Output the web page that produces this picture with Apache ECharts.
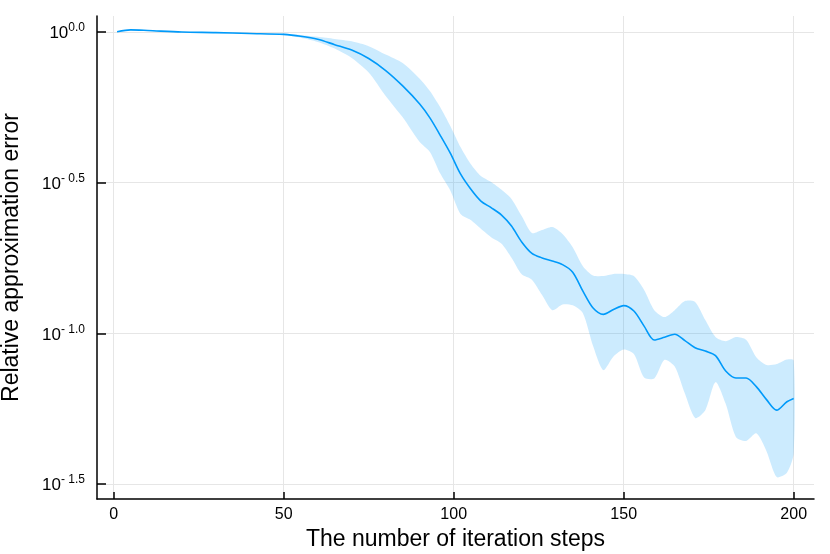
<!DOCTYPE html>
<html>
<head>
<meta charset="utf-8">
<title>Relative approximation error</title>
<script src="https://cdn.jsdelivr.net/npm/echarts@6/dist/echarts.min.js"></script>
<style>
  html, body { margin: 0; padding: 0; background: #fff; }
  #main { width: 830px; height: 554px; }
</style>
</head>
<body>
<div id="main"></div>
<script>
var steps = [1, 5, 10, 20, 30, 40, 50, 55, 60, 65, 70, 75, 80, 85, 90,
  93, 96, 99, 102, 105, 108, 111, 114, 117, 120, 123, 126, 129, 132, 135,
  138, 141, 144, 147, 150, 153, 156, 159, 162, 165, 168, 171, 174, 177, 180,
  183, 186, 189, 192, 195, 198, 200];

// log10 of the relative error: mean, upper and lower edge of the ribbon
var meanLog10 = [0.001, 0.007, 0.005, 0.000, -0.002, -0.005, -0.008,
  -0.014, -0.024, -0.042, -0.060, -0.088, -0.128, -0.179, -0.239,
  -0.285, -0.342, -0.402, -0.471, -0.521, -0.561, -0.583, -0.607, -0.644, -0.697,
  -0.735, -0.750, -0.760, -0.772, -0.797, -0.860, -0.916, -0.937, -0.921, -0.908,
  -0.926, -0.976, -1.022, -1.013, -1.003, -1.024, -1.048, -1.059, -1.074, -1.125,
  -1.148, -1.148, -1.177, -1.220, -1.255, -1.227, -1.216];

var upperLog10 = [0.002, 0.008, 0.006, 0.001, 0.000, -0.003, -0.005,
  -0.010, -0.016, -0.023, -0.031, -0.047, -0.075, -0.103, -0.155,
  -0.196, -0.249, -0.312, -0.382, -0.438, -0.478, -0.498, -0.523, -0.554, -0.611,
  -0.667, -0.657, -0.647, -0.670, -0.714, -0.777, -0.808, -0.810, -0.803, -0.803,
  -0.810, -0.856, -0.923, -0.946, -0.923, -0.893, -0.896, -0.956, -1.012, -1.026,
  -1.012, -1.021, -1.079, -1.105, -1.102, -1.087, -1.090];

var lowerLog10 = [0.000, 0.006, 0.003, -0.002, -0.003, -0.007, -0.010,
  -0.019, -0.033, -0.055, -0.086, -0.134, -0.212, -0.283, -0.365,
  -0.398, -0.469, -0.526, -0.604, -0.624, -0.653, -0.681, -0.702, -0.749, -0.804,
  -0.822, -0.873, -0.923, -0.904, -0.907, -0.933, -1.042, -1.122, -1.077, -1.054,
  -1.069, -1.147, -1.150, -1.088, -1.110, -1.200, -1.281, -1.255, -1.162, -1.234,
  -1.344, -1.357, -1.332, -1.391, -1.477, -1.463, -1.398];

var xTicks = [0, 50, 100, 150, 200];
var yTicks = [-1.5, -1.0, -0.5, 0.0];

var FONT = '"Liberation Sans", Arial, sans-serif';
var BLUE = '#009AFA';

var meanData = [];
for (var i = 0; i < steps.length; i++) {
  meanData.push([steps[i], meanLog10[i]]);
}

function expLabel(v) {
  var s = v === 0 ? '0.0' : '- ' + Math.abs(v).toFixed(1);
  return '{b|10}{s|' + s + '}';
}

// ribbon: one polygon, upper edge forward then lower edge back
function renderBand(params, api) {
  var pts = [];
  for (var i = 0; i < steps.length; i++) {
    pts.push(api.coord([steps[i], upperLog10[i]]));
  }
  for (var j = steps.length - 1; j >= 0; j--) {
    pts.push(api.coord([steps[j], lowerLog10[j]]));
  }
  return {
    type: 'polygon',
    shape: { points: pts, smooth: 0.25 },
    style: { fill: BLUE, opacity: 0.2 },
    silent: true
  };
}

var chart = echarts.init(document.getElementById('main'), null, { renderer: 'canvas' });
chart.setOption({
  animation: false,
  backgroundColor: '#fff',
  grid: { left: 97, right: 16, top: 16, bottom: 55, containLabel: false, outerBoundsMode: 'none' },
  xAxis: {
    type: 'value',
    min: -4.91,
    max: 205.97,
    name: 'The number of iteration steps',
    nameLocation: 'middle',
    nameGap: 27,
    nameTextStyle: { fontFamily: FONT, fontSize: 23, color: '#000' },
    axisLine: { onZero: false, lineStyle: { color: '#000', width: 1.5 } },
    axisTick: { inside: true, length: 7, customValues: xTicks, lineStyle: { color: '#000', width: 1.5 } },
    axisLabel: { customValues: xTicks, margin: 8, fontFamily: FONT, fontSize: 16, color: '#000' },
    splitLine: { show: true, lineStyle: { color: '#e6e6e6', width: 1 } }
  },
  yAxis: {
    type: 'value',
    min: -1.5498,
    max: 0.0531,
    name: 'Relative approximation error',
    nameLocation: 'middle',
    nameGap: 74,
    nameTextStyle: { fontFamily: FONT, fontSize: 23, color: '#000' },
    axisLine: { onZero: false, lineStyle: { color: '#000', width: 1.5 } },
    axisTick: { inside: true, length: 9, customValues: yTicks, lineStyle: { color: '#000', width: 1.5 } },
    axisLabel: {
      customValues: yTicks,
      margin: 12,
      formatter: expLabel,
      rich: {
        b: { fontFamily: FONT, fontSize: 17, color: '#000', lineHeight: 20, verticalAlign: 'bottom' },
        s: { fontFamily: FONT, fontSize: 12, color: '#000', lineHeight: 20, verticalAlign: 'top' }
      }
    },
    splitLine: { show: true, lineStyle: { color: '#e6e6e6', width: 1 } }
  },
  series: [
    {
      type: 'custom',
      renderItem: renderBand,
      data: [0],
      clip: true,
      z: 1
    },
    {
      type: 'line',
      data: meanData,
      smooth: 0.3,
      symbol: 'none',
      z: 2,
      lineStyle: { color: BLUE, width: 1.6 }
    }
  ]
});
</script>
</body>
</html>
